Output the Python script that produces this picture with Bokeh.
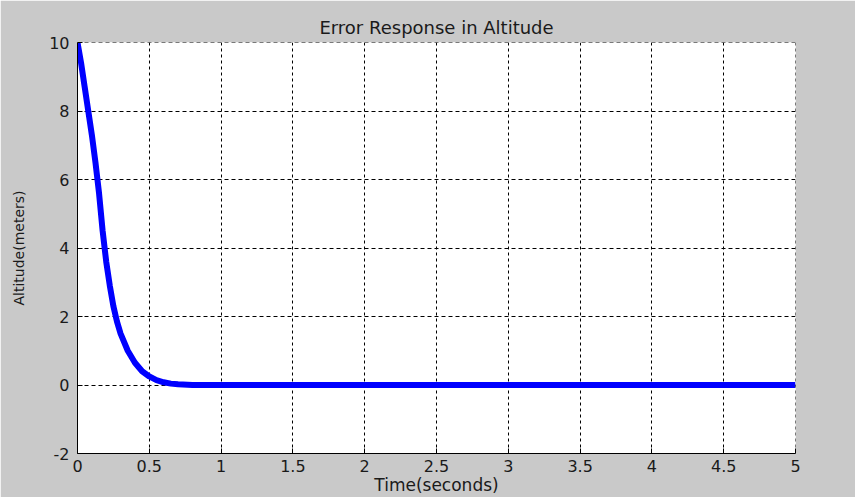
from bokeh.plotting import figure
from bokeh.models import FixedTicker, Range1d, ColumnDataSource, Span
from bokeh.embed import file_html
from bokeh.resources import INLINE

# Data
time_s = [0, 0.025, 0.05, 0.075, 0.1, 0.125, 0.15, 0.175, 0.2, 0.225, 0.25,
          0.275, 0.3, 0.35, 0.4, 0.45, 0.5, 0.55, 0.6, 0.65, 0.7, 0.8,
          1.0, 1.5, 2.0, 2.5, 3.0, 3.5, 4.0, 4.5, 5.0]
altitude_err = [10, 9.4, 8.7, 8.0, 7.3, 6.5, 5.6, 4.5, 3.6, 2.9, 2.3,
                1.85, 1.5, 1.0, 0.65, 0.4, 0.25, 0.14, 0.08, 0.04, 0.02, 0.0,
                0.0, 0.0, 0.0, 0.0, 0.0, 0.0, 0.0, 0.0, 0.0]

x_ticks = [0, 0.5, 1, 1.5, 2, 2.5, 3, 3.5, 4, 4.5, 5]
x_tick_labels = ["0", "0.5", "1", "1.5", "2", "2.5", "3", "3.5", "4", "4.5", "5"]
y_ticks = [-2, 0, 2, 4, 6, 8, 10]
y_tick_labels = ["-2", "0", "2", "4", "6", "8", "10"]

FONT = "DejaVu Sans"
BG = "#c9c9c9"
TXT = "#1a1a1a"

p = figure(width=855, height=497, output_backend="svg", toolbar_location=None,
           x_range=Range1d(0, 5), y_range=Range1d(-2, 10),
           title="Error Response in Altitude",
           min_border_left=77, min_border_right=60,
           min_border_top=42, min_border_bottom=42)

p.background_fill_color = "white"
p.border_fill_color = BG
p.outline_line_color = None

p.title.align = "center"
p.title.text_font = FONT
p.title.text_font_size = "18px"
p.title.text_font_style = "normal"
p.title.text_color = TXT
p.title.standoff = 9

# grid lines at the top and right edges of the axes box
p.add_layout(Span(location=10, dimension="width", line_color="black",
                  line_dash="4 3", line_width=1))
p.add_layout(Span(location=5, dimension="height", line_color="black",
                  line_dash="3 3", line_width=1))

src = ColumnDataSource(dict(t=time_s, y=altitude_err))
p.line("t", "y", source=src, line_color="#0000ff", line_width=6)

for ax in (p.xaxis[0], p.yaxis[0]):
    ax.axis_line_color = "black"
    ax.axis_line_width = 1
    ax.major_tick_in = 5
    ax.major_tick_out = 0
    ax.major_tick_line_color = "black"
    ax.minor_tick_line_color = None
    ax.major_label_text_font = FONT
    ax.major_label_text_font_size = "16px"
    ax.major_label_text_color = TXT
    ax.axis_label_text_font_style = "normal"
    ax.axis_label_text_color = TXT

p.xaxis.axis_label_text_font = FONT
p.xaxis.axis_label_text_font_size = "17px"
p.yaxis.axis_label_text_font = "DejaVu Sans"
p.yaxis.axis_label_text_font_size = "14px"

p.xaxis.ticker = FixedTicker(ticks=x_ticks)
p.xaxis.major_label_overrides = {t: l for t, l in zip(x_ticks, x_tick_labels)}
p.yaxis.ticker = FixedTicker(ticks=y_ticks)
p.yaxis.major_label_overrides = {t: l for t, l in zip(y_ticks, y_tick_labels)}

p.xaxis.axis_label = "Time(seconds)"
p.yaxis.axis_label = "Altitude(meters)"
p.xaxis.major_label_standoff = 6
p.xaxis.axis_label_standoff = 0
p.yaxis.major_label_standoff = 8
p.yaxis.axis_label_standoff = 19

p.xgrid.grid_line_color = "black"
p.xgrid.grid_line_dash = "3 3"
p.xgrid.grid_line_width = 1
p.ygrid.grid_line_color = "black"
p.ygrid.grid_line_dash = "4 3"
p.ygrid.grid_line_width = 1

open("out.html", "w").write(file_html(p, INLINE))
